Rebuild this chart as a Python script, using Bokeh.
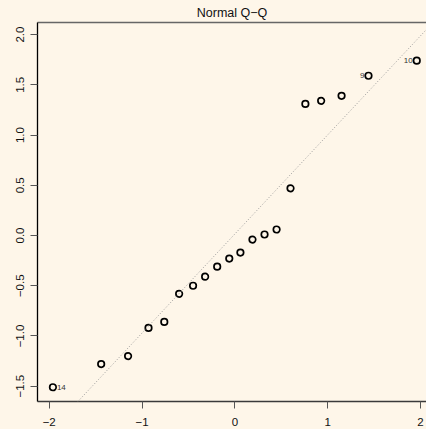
from statistics import NormalDist
import numpy as np
from bokeh.plotting import figure
from bokeh.models import FixedTicker, LinearAxis, Slope
from bokeh.core.properties import value
from bokeh.embed import file_html
from bokeh.resources import INLINE

# ---- data ----
theoretical = [-1.96, -1.44, -1.15, -0.93, -0.76, -0.60, -0.45, -0.32, -0.19, -0.06,
               0.06, 0.19, 0.32, 0.45, 0.60, 0.76, 0.93, 1.15, 1.44, 1.96]
sample = [-1.51, -1.28, -1.20, -0.92, -0.86, -0.58, -0.50, -0.41, -0.31, -0.23,
          -0.17, -0.04, 0.01, 0.06, 0.47, 1.31, 1.34, 1.39, 1.59, 1.74]
point_labels = ["14", "", "", "", "", "", "", "", "", "",
                "", "", "", "", "", "", "", "", "9", "10"]
x_ticks = [-2, -1, 0, 1, 2]
y_ticks = [-1.5, -1.0, -0.5, 0.0, 0.5, 1.0, 1.5, 2.0]
title_text = "Normal Q\u2212Q"

BG = "#FEF6E9"
FONT = "Liberation Sans"

def fmt(v, dec):
    s = f"{v:.{dec}f}"
    return s.replace("-", "\u2212")

p = figure(width=426, height=429,
           x_range=(-2.126, 2.065), y_range=(-1.652, 2.12),
           output_backend="svg", toolbar_location=None,
           background_fill_color=BG, border_fill_color=BG,
           min_border_left=37, min_border_right=0, min_border_top=22, min_border_bottom=28,
           x_axis_type=None, y_axis_type=None)
p.grid.visible = False
p.outline_line_color = None

p.title.text = title_text
p.title.align = "center"
p.title.text_font = FONT
p.title.text_font_size = "12.5px"
p.title.text_font_style = "normal"
p.title.text_color = "#111111"
p.title.offset = 0
p.title.standoff = 5

def style_axis(ax, ticks, dec, line_color):
    ax.ticker = FixedTicker(ticks=ticks)
    ax.major_label_overrides = {t: fmt(t, dec) for t in ticks}
    ax.major_label_text_font = FONT
    ax.major_label_text_font_size = "11.5px"
    ax.major_label_text_color = "#111111"
    ax.major_tick_out = 7
    ax.major_tick_in = 0
    ax.major_tick_line_color = "#555555"
    ax.minor_tick_line_color = None
    ax.axis_line_color = line_color
    ax.axis_line_width = 1.3

xax = LinearAxis()
style_axis(xax, x_ticks, 0, "#3a3a3a")
xax.major_label_standoff = 9
p.add_layout(xax, "below")

yax = LinearAxis()
style_axis(yax, y_ticks, 1, "#000000")
yax.major_label_orientation = "vertical"
yax.major_label_standoff = 6
p.add_layout(yax, "left")

top = LinearAxis(ticker=FixedTicker(ticks=[]), axis_line_color="#666666", axis_line_width=1.3,
                 major_tick_line_color=None, minor_tick_line_color=None,
                 major_label_text_font_size="0px", major_label_standoff=0)
p.add_layout(top, "above")

# reference line through quartiles
q1, q3 = np.percentile(sample, [25, 75])
z1, z3 = NormalDist().inv_cdf(0.25), NormalDist().inv_cdf(0.75)
slope = (q3 - q1) / (z3 - z1)
intercept = q1 - slope * z1
p.add_layout(Slope(gradient=slope, y_intercept=intercept, line_color="#9a9a9a",
                   line_width=1, line_dash="1 2"))

p.scatter(theoretical, sample, size=6.5, marker="circle", fill_color=None,
          line_color="#000000", line_width=1.7)

xmid = (p.x_range.start + p.x_range.end) / 2
lx_r, ly_r, lt_r, lx_l, ly_l, lt_l = [], [], [], [], [], []
for xv, yv, t in zip(theoretical, sample, point_labels):
    if not t:
        continue
    if xv < xmid:
        lx_r.append(xv); ly_r.append(yv); lt_r.append(t)
    else:
        lx_l.append(xv); ly_l.append(yv); lt_l.append(t)

p.text(lx_r, ly_r, text=lt_r, x_offset=4, text_align="left", text_baseline="middle",
       text_font=value(FONT), text_font_size="8px", text_color="#333333")
p.text(lx_l, ly_l, text=lt_l, x_offset=-4, text_align="right", text_baseline="middle",
       text_font=value(FONT), text_font_size="8px", text_color="#333333")

html = file_html(p, INLINE)
html = html.replace("<body>", '<body style="background:%s">' % BG)
open("out.html", "w").write(html)
